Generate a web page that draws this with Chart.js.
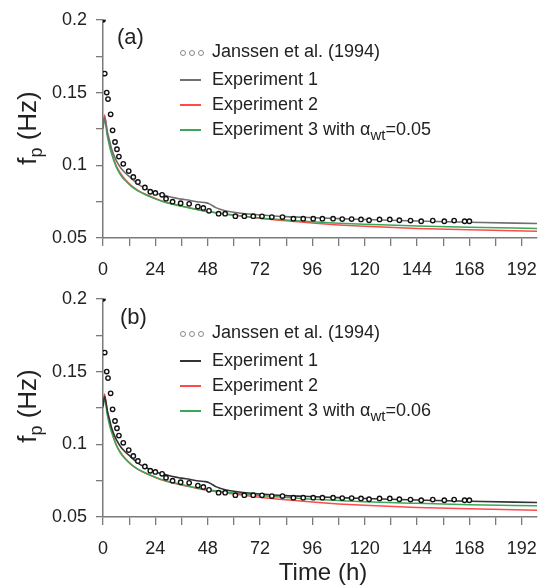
<!DOCTYPE html>
<html lang="en">
<head>
    <meta charset="UTF-8">
    <title>Peak frequency vs time</title>
    <script src="https://cdn.jsdelivr.net/npm/chart.js"></script>
    <style>
        body {
            margin: 0;
            background: #fff;
            font-family: 'Liberation Sans', Arial, sans-serif;
            color: #222;
        }

        .page {
            position: relative;
            width: 550px;
            height: 587px;
            overflow: hidden;
        }

        .panel {
            position: absolute;
            left: 0;
            width: 550px;
            height: 290px;
        }

        .tag {
            position: absolute;
            font-size: 22px;
            line-height: 22px;
        }

        .ytitle {
            position: absolute;
            font-size: 26px;
            line-height: 26px;
            white-space: nowrap;
            transform: translate(-50%, -50%) rotate(-90deg);
        }

        .ytitle sub {
            font-size: 18px;
            vertical-align: -6px;
        }

        .xtitle {
            position: absolute;
            font-size: 24px;
            line-height: 24px;
            transform: translate(-50%, -50%);
        }

        .legend {
            position: absolute;
            left: 178px;
            font-size: 18px;
        }

        .legend .row {
            position: relative;
            height: 25px;
            line-height: 25px;
            white-space: nowrap;
        }

        .legend .sample {
            position: absolute;
            left: 2px;
            top: 12px;
            width: 21px;
            height: 2px;
        }

        .legend .label {
            position: absolute;
            left: 34px;
            top: 0;
        }

        .legend .dots {
            position: absolute;
            left: 2px;
            top: 11px;
            line-height: 0;
        }

        .legend .dots i {
            display: inline-block;
            width: 4px;
            height: 4px;
            border: 1px solid #888;
            border-radius: 50%;
            margin-right: 3px;
        }

        .legend sub {
            font-size: 15px;
            vertical-align: -5px;
        }
    </style>
</head>
<body>
<div class="page">
    <div class="panel" style="top:0"><canvas id="panelA"></canvas></div>
    <div class="panel" style="top:279px"><canvas id="panelB"></canvas></div>

    <div class="tag" style="left:117px; top:26px">(a)</div>
    <div class="tag" style="left:120px; top:306px">(b)</div>

    <div class="ytitle" style="left:31px; top:128px">f<sub>p</sub> (Hz)</div>
    <div class="ytitle" style="left:31px; top:406px">f<sub>p</sub> (Hz)</div>
    <div class="xtitle" style="left:323px; top:572px">Time (h)</div>

    <div class="legend" style="top:39px">
        <div class="row"><span class="dots"><i></i><i></i><i></i></span><span class="label">Janssen et al. (1994)</span></div>
        <div class="row" style="margin-top:3px"><span class="sample" style="background:#707070"></span><span class="label">Experiment 1</span></div>
        <div class="row"><span class="sample" style="background:#ff4a4a"></span><span class="label">Experiment 2</span></div>
        <div class="row"><span class="sample" style="background:#3aa858"></span><span class="label">Experiment 3 with &alpha;<sub>wt</sub>=0.05</span></div>
    </div>

    <div class="legend" style="top:320px">
        <div class="row"><span class="dots"><i></i><i></i><i></i></span><span class="label">Janssen et al. (1994)</span></div>
        <div class="row" style="margin-top:3px"><span class="sample" style="background:#333"></span><span class="label">Experiment 1</span></div>
        <div class="row"><span class="sample" style="background:#ff4a4a"></span><span class="label">Experiment 2</span></div>
        <div class="row"><span class="sample" style="background:#3aa858"></span><span class="label">Experiment 3 with &alpha;<sub>wt</sub>=0.06</span></div>
    </div>
</div>

<script>
    // model runs, peak frequency (Hz) against time (h)
    const modelHours = [0, 0.7, 2, 3, 4, 6, 8, 10, 13, 16, 20, 24, 28, 32, 36, 40, 44, 47, 49, 52, 56, 60, 72, 84, 96, 108, 120, 144, 168, 199];
    const exp1 = [0.126, 0.133, 0.123, 0.117, 0.111, 0.1035, 0.0985, 0.095, 0.091, 0.087, 0.0838, 0.081, 0.0795, 0.0778, 0.0767, 0.0758, 0.0747, 0.0743, 0.0733, 0.0707, 0.0688, 0.0677, 0.0658, 0.0647, 0.064, 0.0633, 0.0627, 0.0617, 0.0608, 0.06];
    const exp2 = [0.127, 0.1345, 0.122, 0.115, 0.109, 0.1, 0.0945, 0.0905, 0.086, 0.0828, 0.0797, 0.0772, 0.075, 0.0734, 0.072, 0.0707, 0.0694, 0.0686, 0.0681, 0.0674, 0.0666, 0.0658, 0.0636, 0.0618, 0.0603, 0.059, 0.058, 0.0566, 0.0556, 0.0547];
    const exp3a = [0.125, 0.1315, 0.12, 0.113, 0.1075, 0.099, 0.0935, 0.0898, 0.0855, 0.0824, 0.0794, 0.0769, 0.0748, 0.0732, 0.0718, 0.0705, 0.0692, 0.0684, 0.0679, 0.0672, 0.0664, 0.0657, 0.0638, 0.0624, 0.0612, 0.0602, 0.0594, 0.0583, 0.0574, 0.0566];
    const exp3b = [0.125, 0.1315, 0.12, 0.113, 0.108, 0.0995, 0.094, 0.0903, 0.086, 0.0829, 0.0799, 0.0774, 0.0753, 0.0737, 0.0723, 0.071, 0.0698, 0.069, 0.0686, 0.068, 0.0672, 0.0665, 0.0648, 0.0634, 0.0622, 0.0613, 0.0605, 0.0594, 0.0585, 0.0577];

    // Janssen et al. (1994) observations
    const janssenHours = [0, 0.8, 1.7, 2.3, 3.5, 4.4, 5.5, 6.4, 7.3, 9.3, 11.8, 13.9, 16, 19.2, 21.7, 24, 27.1, 28.9, 31.9, 35.6, 39.5, 43.5, 46, 48.6, 53, 56, 60.7, 64.8, 68.9, 72.9, 77.4, 82.3, 87.3, 91.8, 96.4, 100.6, 105.5, 109.7, 114, 118.3, 122, 126.8, 131.5, 135.9, 141, 145.9, 151.2, 156.5, 161, 165.8, 168];
    const janssenFp = [0.2, 0.163, 0.15, 0.1455, 0.135, 0.124, 0.116, 0.111, 0.106, 0.101, 0.096, 0.092, 0.0885, 0.0847, 0.0818, 0.081, 0.0797, 0.077, 0.075, 0.0739, 0.0735, 0.0716, 0.0707, 0.0687, 0.0667, 0.0667, 0.065, 0.065, 0.065, 0.0649, 0.0644, 0.0644, 0.0633, 0.0633, 0.0633, 0.0633, 0.0633, 0.063, 0.063, 0.0628, 0.0622, 0.0628, 0.0628, 0.0622, 0.062, 0.0615, 0.062, 0.0615, 0.062, 0.0615, 0.0615];

    const xMax = 199;
    const xTicks = [0, 24, 48, 72, 96, 120, 144, 168, 192];
    const yTicks = [0.05, 0.1, 0.15, 0.2];

    const axisColor = '#7a7a7a';
    const font = { family: "'Liberation Sans', Arial, sans-serif", size: 18 };

    const pairs = (xs, ys) => xs.map((x, i) => ({ x: x, y: ys[i] }));

    function curve(label, values, color, width) {
        return {
            type: 'line',
            label: label,
            data: pairs(modelHours, values),
            borderColor: color,
            borderWidth: width,
            pointRadius: 0,
            cubicInterpolationMode: 'monotone',
            fill: false
        };
    }

    // first dataset is painted last, so the observations sit on top
    function makePanel(id, exp1Color, exp3) {
        const ctx = document.getElementById(id).getContext('2d');
        return new Chart(ctx, {
            data: {
                datasets: [
                    {
                        type: 'scatter',
                        label: 'Janssen et al. (1994)',
                        data: pairs(janssenHours, janssenFp),
                        pointStyle: 'circle',
                        pointRadius: 2.2,
                        borderWidth: 1.4,
                        borderColor: '#111',
                        backgroundColor: c => c.dataIndex === 0 ? '#111' : '#fff'
                    },
                    curve('Experiment 1', exp1, exp1Color, 1.6),
                    curve('Experiment 3', exp3, '#3aa858', 1.5),
                    curve('Experiment 2', exp2, '#ff4a4a', 1.5)
                ]
            },
            options: {
                responsive: false,
                animation: false,
                events: [],
                layout: { padding: { top: 13, right: 7, left: 0, bottom: 0 } },
                plugins: { legend: { display: false }, tooltip: { enabled: false } },
                scales: {
                    x: {
                        type: 'linear',
                        min: 0,
                        max: xMax,
                        afterFit: s => { s.height = 52; },
                        border: { display: true, color: axisColor, width: 1.5 },
                        grid: { drawOnChartArea: false, drawTicks: true, tickLength: 8, color: axisColor, lineWidth: 1.3 },
                        ticks: {
                            stepSize: 12,
                            includeBounds: false,
                            autoSkip: false,
                            maxRotation: 0,
                            padding: 13,
                            color: '#222',
                            font: font,
                            callback: v => xTicks.includes(v) ? String(v) : ''
                        }
                    },
                    y: {
                        min: 0.05,
                        max: 0.2,
                        afterFit: s => { s.width = 103; },
                        border: { display: true, color: axisColor, width: 1.5 },
                        grid: { drawOnChartArea: false, drawTicks: true, tickLength: 7, color: axisColor, lineWidth: 1.3 },
                        ticks: {
                            stepSize: 0.025,
                            autoSkip: false,
                            padding: 9,
                            color: '#222',
                            font: font,
                            callback: v => {
                                const r = Number(v.toFixed(3));
                                return yTicks.includes(r) ? String(r) : '';
                            }
                        }
                    }
                }
            }
        });
    }

    for (const id of ['panelA', 'panelB']) {
        const c = document.getElementById(id);
        c.width = 550;
        c.height = 290;
    }

    makePanel('panelA', '#707070', exp3a);
    makePanel('panelB', '#333333', exp3b);
</script>
</body>
</html>
